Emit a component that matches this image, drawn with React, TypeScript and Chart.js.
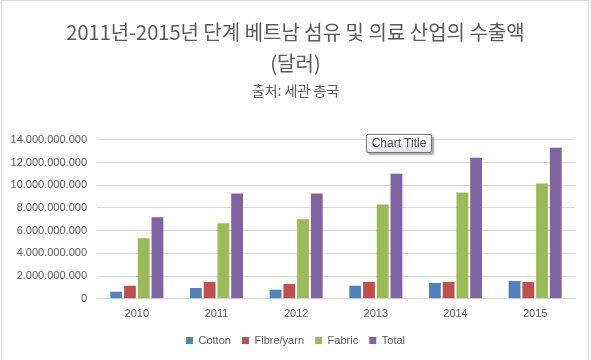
import React, { useEffect, useRef } from "react";
import { Chart, registerables } from "chart.js";

Chart.register(...registerables);

const years = ["2010", "2011", "2012", "2013", "2014", "2015"];
const cotton = [0.61e9, 0.96e9, 0.79e9, 1.14e9, 1.4e9, 1.57e9];
const fibreYarn = [1.14e9, 1.49e9, 1.31e9, 1.49e9, 1.49e9, 1.49e9];
const fabric = [5.34e9, 6.65e9, 7.0e9, 8.31e9, 9.36e9, 10.15e9];
const total = [7.17e9, 9.27e9, 9.27e9, 11.02e9, 12.42e9, 13.3e9];
const seriesNames = ["Cotton", "Fibre/yarn", "Fabric", "Total"];
const titleLines = ["2011년-2015년 단계 베트남 섬유 및 의료 산업의 수출액", "(달러)"];
const subtitleText = "출처: 세관 총국";

const FONT = "'Liberation Sans', Arial, sans-serif";
const KFONT = "'Noto Sans CJK KR', 'Noto Sans', sans-serif";

function fmt(v: number): string {
  return Math.round(v).toString().replace(/\B(?=(\d{3})+(?!\d))/g, ".");
}

export default function App() {
  const ref = useRef<HTMLCanvasElement | null>(null);
  useEffect(() => {
    if (!ref.current) return;
    const colors = ["#4f81bd", "#c0504d", "#9bbb59", "#8064a2"];
    const data = [cotton, fibreYarn, fabric, total];
    const chart = new Chart(ref.current, {
      type: "bar",
      data: {
        labels: years,
        datasets: seriesNames.map((n, i) => ({
          label: n,
          data: data[i],
          backgroundColor: colors[i],
          borderWidth: 0,
          categoryPercentage: 0.69,
          barPercentage: 0.86,
        })),
      },
      options: {
        animation: false,
        responsive: false,
        maintainAspectRatio: false,
        layout: { padding: { top: 0, left: 0, right: 0, bottom: 4 } },
        plugins: {
          title: {
            display: true,
            text: titleLines,
            color: "#595959",
            font: { family: KFONT, size: 20, weight: "normal", lineHeight: 1.55 },
            padding: { top: 17, bottom: 3 },
          },
          subtitle: {
            display: true,
            text: subtitleText,
            color: "#595959",
            font: { family: KFONT, size: 14, weight: "normal", lineHeight: 1.2 },
            padding: { top: 0, bottom: 41 },
          },
          legend: {
            position: "bottom",
            labels: {
              boxWidth: 7,
              boxHeight: 7,
              color: "#595959",
              font: { family: FONT, size: 11 },
              padding: 5,
              generateLabels: (c: any) => {
                const items = Chart.defaults.plugins.legend.labels.generateLabels(c);
                return items.map((it: any, i: number) => ({
                  ...it,
                  text: i < items.length - 1 ? it.text + "  " : it.text,
                }));
              },
            },
          },
          tooltip: { enabled: false },
        },
        scales: {
          x: {
            grid: { display: false, drawTicks: false },
            border: { display: true, color: "#d9d9d9" },
            ticks: { color: "#595959", font: { family: FONT, size: 11 }, padding: 9 },
          },
          y: {
            min: 0,
            max: 14e9,
            grid: { color: "#d9d9d9", drawTicks: false },
            border: { display: false },
            afterFit: (scale: any) => {
              scale.width = 97;
            },
            ticks: {
              stepSize: 2e9,
              color: "#595959",
              font: { family: FONT, size: 11 },
              padding: 10,
              callback: (v: any) => fmt(Number(v)),
            },
          },
          yRight: {
            position: "right",
            display: true,
            min: 0,
            max: 14e9,
            grid: { display: false, drawTicks: false },
            border: { display: false },
            ticks: { display: false },
            afterFit: (scale: any) => {
              scale.width = 16;
            },
          },
        },
      },
    });
    return () => chart.destroy();
  }, []);

  return (
    <div style={{ position: "fixed", left: 0, top: 0, width: 591, height: 360, overflow: "hidden", background: "#fff" }}>
      <div
        style={{
          position: "absolute",
          left: 1,
          top: 0,
          width: 586,
          height: 400,
          borderLeft: "1px solid #d9d9d9",
          borderRight: "1px solid #d9d9d9",
          borderTop: "1px solid #d9d9d9",
        }}
      />
      <canvas ref={ref} width={591} height={360} style={{ position: "absolute", left: 0, top: 0 }} />
      <div
        style={{
          position: "absolute",
          left: 366,
          top: 134,
          width: 64,
          height: 17,
          border: "1px solid #767676",
          borderRadius: 2,
          background: "linear-gradient(#ffffff, #e4e5f0)",
          boxShadow: "2px 2px 2px rgba(0,0,0,0.35)",
          color: "#4c4c4c",
          fontFamily: FONT,
          fontSize: 12,
          lineHeight: "17px",
          textAlign: "center",
        }}
      >
        Chart Title
      </div>
    </div>
  );
}
